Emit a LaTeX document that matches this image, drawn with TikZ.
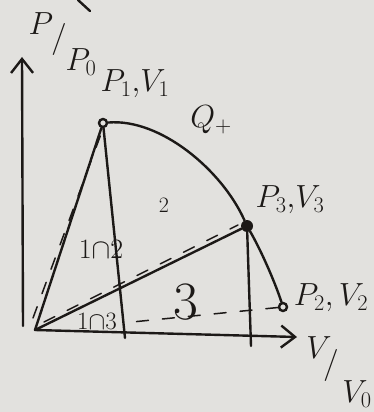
\RequirePackage{fix-cm}
\documentclass[tikz,border=0pt]{standalone}
\usetikzlibrary{arrows.meta}
\definecolor{paper}{RGB}{226,225,222}
\definecolor{ink}{RGB}{28,25,23}

\def \inkwidth {2.4pt}
\def \labelsize {\fontsize{32}{36}\selectfont}

\begin{document}
\begin{tikzpicture}[x=1pt, y=-1pt,
  stroke/.style={draw=ink, line width=\inkwidth, line cap=round, line join=round},
  hatch/.style={draw=ink, line width=1.5pt, line cap=round, dash pattern=on 12pt off 14pt},
  state/.style={circle, draw=ink, line width=\inkwidth, fill=paper, inner sep=0pt, minimum size=8pt},
  statedot/.style={circle, fill=ink, inner sep=0pt, minimum size=12pt},
  lbl/.style={text=ink, inner sep=0pt, font=\labelsize},
  slash/.style={lbl, font=\fontsize{32}{36}\selectfont},
  axisarrow/.style={-{Straight Barb[length=14pt,width=22pt,line width=\inkwidth]}}
]
\fill[paper] (0,0) rectangle (374,412);
\useasboundingbox (0,0) rectangle (374,412);

% states and corners
\coordinate (O) at (35,330);
\node[state] (P1) at (103,123) {};
\node[statedot] (P3) at (247,226) {};
\node[state] (P2) at (283,307) {};
\coordinate (F1) at (125,338);
\coordinate (F3) at (251,346);
\coordinate (Vbot) at (23,326);
\coordinate (Vtop) at (22,57);
\coordinate (Htip) at (297,337);
\coordinate (D2) at (132,322);
\coordinate (H1a) at (33,318); \coordinate (H1b) at (101,134);
\coordinate (H3a) at (44,322); \coordinate (H3b) at (238,225);

% axes
\draw[stroke, axisarrow] (Vbot) -- (Vtop);
\draw[stroke, axisarrow] (O) -- (Htip);

% process curve
\draw[stroke] (P1) .. controls (160,118) and (222,170) .. (P3)
  .. controls (262,252) and (276,285) .. (P2);

% triangles
\draw[stroke] (O) -- (P1);
\draw[stroke] (P1) -- (F1);
\draw[stroke] (O) -- (P3);
\draw[stroke] (P3) -- (F3);
\draw[hatch] (H1a) -- (H1b);
\draw[hatch] (H3a) -- (H3b);
\draw[hatch] (P2) -- (D2);
\draw[stroke] (78,0) -- (90,11); % cut off at the top

% axis names, written down the diagonal
\node[lbl] (yP) at (41,24) {$P$};
\node[slash] (ys) at (59,40) {$/$};
\node[lbl] (yP0) at (81,62) {$P_0$};
\node[lbl] (xV) at (319,348) {$V$};
\node[slash] (xs) at (331,365) {$/$};
\node[lbl] (xV0) at (357,394) {$V_0$};

% states and regions
\node[lbl] (l1) at (135,84) {$P_1{,}V_1$};
\node[lbl] (lq) at (211,120) {$Q_+$};
\node[lbl, font=\fontsize{22}{26}\selectfont] (r2) at (164,205) {$2$};
\node[lbl] (l3) at (290,200) {$P_3{,}V_3$};
\node[lbl, font=\fontsize{28}{32}\selectfont] (r12) at (101,249) {$1{\cap}2$};
\node[lbl, font=\fontsize{25}{28}\selectfont] (r13) at (97,321) {$1{\cap}3$};
\node[lbl, font=\fontsize{54}{60}\selectfont] (r3) at (186,302) {$3$};
\node[lbl] (l2) at (331,298) {$P_2, V_2$};
\end{tikzpicture}
\end{document}
